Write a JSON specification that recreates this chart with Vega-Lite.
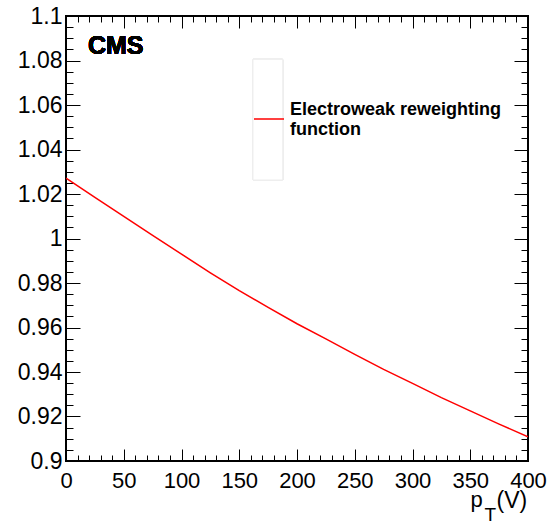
{
  "$schema": "https://vega.github.io/schema/vega-lite/v6.json",
  "width": 462,
  "height": 445,
  "autosize": {"type": "none"},
  "padding": {"left": 66, "top": 16, "right": 24, "bottom": 60},
  "background": "white",
  "config": {
    "view": {"stroke": "black", "strokeWidth": 2},
    "font": "Liberation Sans",
    "axis": {"grid": false, "domain": false, "tickColor": "black", "tickWidth": 1, "labelColor": "black", "labelFont": "Liberation Sans", "labelFontSize": 22, "labelFlush": false, "labelOverlap": false, "titleFont": "Liberation Sans", "titleFontWeight": "normal", "titleColor": "black"},
    "legend": {"orient": "none", "legendX": 187, "legendY": 87, "padding": 0, "symbolType": "stroke", "symbolSize": 900, "symbolStrokeWidth": 1.5, "labelFont": "Liberation Sans", "labelFontWeight": "bold", "labelFontSize": 18, "labelLineHeight": 23, "labelOffset": 5, "labelLimit": 400, "labelColor": "black", "labelBaseline": "bottom"}
  },
  "data": {"values": [
    {"pt": 0, "w": 1.0271, "s": "Electroweak reweighting function"},
    {"pt": 25, "w": 1.0185, "s": "Electroweak reweighting function"},
    {"pt": 50, "w": 1.0099, "s": "Electroweak reweighting function"},
    {"pt": 75, "w": 1.0014, "s": "Electroweak reweighting function"},
    {"pt": 100, "w": 0.9930, "s": "Electroweak reweighting function"},
    {"pt": 125, "w": 0.9846, "s": "Electroweak reweighting function"},
    {"pt": 150, "w": 0.9766, "s": "Electroweak reweighting function"},
    {"pt": 175, "w": 0.9690, "s": "Electroweak reweighting function"},
    {"pt": 200, "w": 0.9617, "s": "Electroweak reweighting function"},
    {"pt": 225, "w": 0.9549, "s": "Electroweak reweighting function"},
    {"pt": 250, "w": 0.9479, "s": "Electroweak reweighting function"},
    {"pt": 275, "w": 0.9412, "s": "Electroweak reweighting function"},
    {"pt": 300, "w": 0.9349, "s": "Electroweak reweighting function"},
    {"pt": 325, "w": 0.9285, "s": "Electroweak reweighting function"},
    {"pt": 350, "w": 0.9225, "s": "Electroweak reweighting function"},
    {"pt": 375, "w": 0.9166, "s": "Electroweak reweighting function"},
    {"pt": 400, "w": 0.9109, "s": "Electroweak reweighting function"}
  ]},
  "resolve": {"axis": {"x": "independent", "y": "independent"}},
  "layer": [
    {
      "mark": {"type": "rect", "fill": "white", "stroke": "#eeeeee", "strokeWidth": 1},
      "encoding": {
        "x": {"datum": 161.9, "type": "quantitative", "axis": null},
        "x2": {"datum": 187.6},
        "y": {"datum": 1.0805, "type": "quantitative", "axis": null},
        "y2": {"datum": 1.0263}
      }
    },
    {
      "mark": {"type": "line", "strokeWidth": 1.5, "clip": true},
      "encoding": {
        "x": {"field": "pt", "type": "quantitative", "scale": {"domain": [0, 400], "nice": false, "zero": false},
          "axis": {"orient": "bottom", "values": [0, 50, 100, 150, 200, 250, 300, 350, 400], "tickSize": -12, "labelPadding": 21, "title": "p", "titleFontSize": 22, "titleX": 404, "titleY": 45, "titleAlign": "left", "titleBaseline": "alphabetic", "titleAnchor": null}},
        "y": {"field": "w", "type": "quantitative", "scale": {"domain": [0.9, 1.1], "nice": false, "zero": false},
          "axis": {"orient": "left", "values": [0.9, 0.92, 0.94, 0.96, 0.98, 1, 1.02, 1.04, 1.06, 1.08, 1.1], "format": "~g", "tickSize": -14, "labelPadding": 18, "labelFontSize": 23, "title": null}},
        "color": {"field": "s", "type": "nominal", "scale": {"range": ["#ff0000"]},
          "legend": {"title": null, "labelExpr": "['Electroweak reweighting', 'function']"}}
      }
    },
    {
      "mark": {"type": "line", "opacity": 0},
      "encoding": {
        "x": {"field": "pt", "type": "quantitative",
          "axis": {"orient": "bottom", "values": [0,10,20,30,40,50,60,70,80,90,100,110,120,130,140,150,160,170,180,190,200,210,220,230,240,250,260,270,280,290,300,310,320,330,340,350,360,370,380,390,400], "tickSize": -6, "labels": false, "title": "(V)", "titleFontSize": 23, "titleX": 430, "titleY": 46, "titleAlign": "left", "titleBaseline": "alphabetic", "titleAnchor": null}},
        "y": {"field": "w", "type": "quantitative",
          "axis": {"orient": "left", "values": [0.9,0.905,0.91,0.915,0.92,0.925,0.93,0.935,0.94,0.945,0.95,0.955,0.96,0.965,0.97,0.975,0.98,0.985,0.99,0.995,1,1.005,1.01,1.015,1.02,1.025,1.03,1.035,1.04,1.045,1.05,1.055,1.06,1.065,1.07,1.075,1.08,1.085,1.09,1.095,1.1], "tickSize": -7, "labels": false, "title": null}}
      }
    },
    {
      "mark": {"type": "line", "opacity": 0},
      "encoding": {
        "x": {"field": "pt", "type": "quantitative",
          "axis": {"orient": "top", "values": [0, 50, 100, 150, 200, 250, 300, 350, 400], "tickSize": -12, "labels": false, "title": "T", "titleFontSize": 19, "titleX": 418, "titleY": 504, "titleAlign": "left", "titleBaseline": "alphabetic", "titleAnchor": null}},
        "y": {"field": "w", "type": "quantitative",
          "axis": {"orient": "right", "values": [0.9, 0.92, 0.94, 0.96, 0.98, 1, 1.02, 1.04, 1.06, 1.08, 1.1], "tickSize": -14, "labels": false, "title": null}}
      }
    },
    {
      "mark": {"type": "line", "opacity": 0},
      "encoding": {
        "x": {"field": "pt", "type": "quantitative",
          "axis": {"orient": "top", "values": [0,10,20,30,40,50,60,70,80,90,100,110,120,130,140,150,160,170,180,190,200,210,220,230,240,250,260,270,280,290,300,310,320,330,340,350,360,370,380,390,400], "tickSize": -6, "labels": false, "title": null}},
        "y": {"field": "w", "type": "quantitative",
          "axis": {"orient": "right", "values": [0.9,0.905,0.91,0.915,0.92,0.925,0.93,0.935,0.94,0.945,0.95,0.955,0.96,0.965,0.97,0.975,0.98,0.985,0.99,0.995,1,1.005,1.01,1.015,1.02,1.025,1.03,1.035,1.04,1.045,1.05,1.055,1.06,1.065,1.07,1.075,1.08,1.085,1.09,1.095,1.1], "tickSize": -7, "labels": false, "title": null}}
      }
    },
    {
      "mark": {"type": "text", "text": "CMS", "font": "Liberation Sans", "fontWeight": "bold", "fontSize": 25, "align": "left", "baseline": "alphabetic", "fill": "black"},
      "encoding": {
        "x": {"datum": 19.0, "type": "quantitative", "axis": null},
        "y": {"datum": 1.0831, "type": "quantitative", "axis": null}
      }
    }
  ]
}
